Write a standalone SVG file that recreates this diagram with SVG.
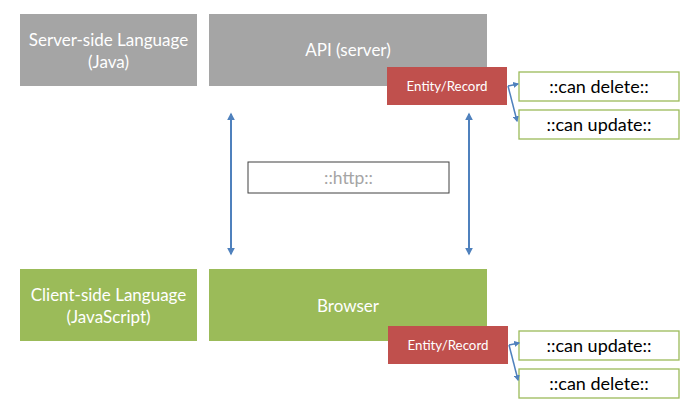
<svg xmlns="http://www.w3.org/2000/svg" width="690" height="412" viewBox="0 0 690 412">
<style>
text{font-family:Lato,"Open Sans","Liberation Sans",sans-serif;text-anchor:middle}
.gray{fill:#a5a5a5}
.green{fill:#9bbb59}
.red{fill:#c0504d}
.wt{fill:#ffffff;font-size:17px}
.et{fill:#ffffff;font-size:13.3px}
.ob{fill:#ffffff;stroke:#9bbb59;stroke-width:1.3}
.ot{fill:#000000;font-size:18px}
.conn{stroke:#4f81bd;stroke-width:2;fill:none}
.sconn{stroke:#4f81bd;stroke-width:1.5;fill:none}
</style>
<defs>
<marker id="ah" viewBox="0 0 10 10" refX="8" refY="5" markerWidth="4" markerHeight="4" orient="auto-start-reverse">
<path d="M0,0 L10,5 L0,10 z" fill="#4f81bd"/>
</marker>
</defs>
<rect width="690" height="412" fill="#ffffff"/>
<g id="server-lang"><rect class="gray" x="20" y="14" width="177" height="72"/><text class="wt" x="108.5" y="46">Server-side Language</text><text class="wt" x="108.5" y="68">(Java)</text></g>
<g id="api"><rect class="gray" x="209" y="14" width="278" height="72"/><text class="wt" x="348" y="56">API (server)</text></g>
<g id="entity-top"><rect class="red" x="387" y="67" width="120" height="38"/><text class="et" x="447" y="91">Entity/Record</text></g>
<g id="top-delete"><rect class="ob" x="519" y="72" width="160" height="29"/><text class="ot" x="599" y="93">::can delete::</text></g>
<g id="top-update"><rect class="ob" x="519" y="110" width="160" height="29"/><text class="ot" x="599" y="131">::can update::</text></g>
<g id="http"><rect x="248" y="162" width="201" height="31" fill="#ffffff" stroke="#404040" stroke-width="1"/><text x="348.5" y="184" fill="#a5a5a5" font-size="17.5">::http::</text></g>
<g id="client-lang"><rect class="green" x="20" y="269" width="177" height="72"/><text class="wt" x="108.5" y="301">Client-side Language</text><text class="wt" x="108.5" y="323">(JavaScript)</text></g>
<g id="browser"><rect class="green" x="209" y="269" width="278" height="72"/><text class="wt" x="348" y="312">Browser</text></g>
<g id="entity-bottom"><rect class="red" x="388" y="326" width="120" height="38"/><text class="et" x="448" y="350">Entity/Record</text></g>
<g id="bottom-update"><rect class="ob" x="519" y="331" width="160" height="29"/><text class="ot" x="599" y="352">::can update::</text></g>
<g id="bottom-delete"><rect class="ob" x="519" y="369" width="160" height="29"/><text class="ot" x="599" y="390">::can delete::</text></g>
<g id="connectors">
<line class="conn" x1="231" y1="114" x2="231" y2="254" marker-start="url(#ah)" marker-end="url(#ah)"/>
<line class="conn" x1="469" y1="114" x2="469" y2="254" marker-start="url(#ah)" marker-end="url(#ah)"/>
<line class="sconn" x1="508" y1="86" x2="518" y2="84" marker-end="url(#ah)"/>
<line class="sconn" x1="508" y1="86" x2="517" y2="121" marker-end="url(#ah)"/>
<line class="sconn" x1="509" y1="345" x2="519" y2="343" marker-end="url(#ah)"/>
<line class="sconn" x1="509" y1="345" x2="518" y2="380" marker-end="url(#ah)"/>
</g>
</svg>
